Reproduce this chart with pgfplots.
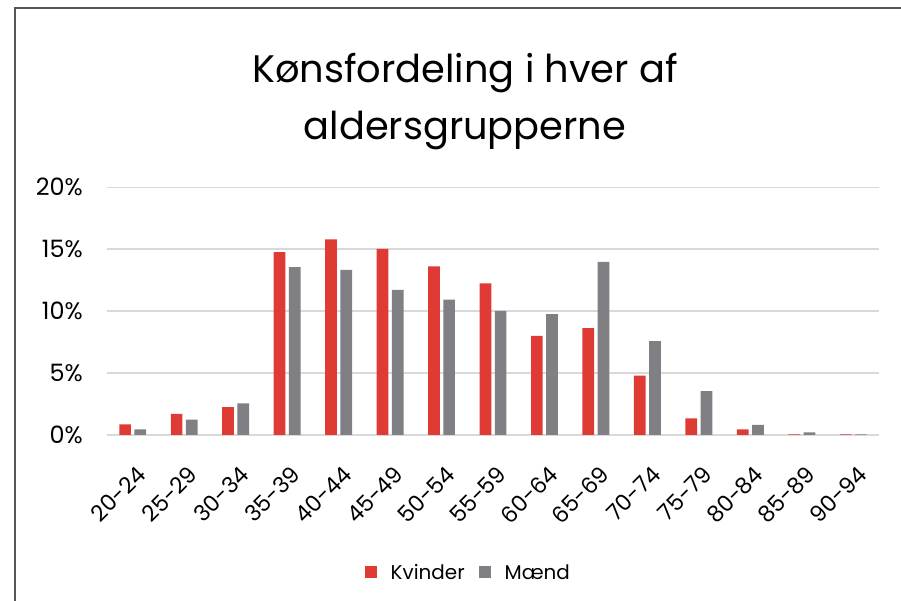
\documentclass[border=0pt]{standalone}
\usepackage{pgfplots}
\pgfplotsset{compat=1.18}
\usepackage{fontspec}
\setmainfont{Poppins}
\definecolor{kv}{HTML}{E03A35}
\definecolor{mn}{HTML}{808084}
\definecolor{gridc}{HTML}{D9D9D9}
\definecolor{framec}{HTML}{555555}
\begin{document}
\begin{tikzpicture}[x=1bp,y=1bp]
\useasboundingbox (0,0) rectangle (901,601);
\draw[line width=2bp, framec] (15,0) -- (15,593) -- (901,593);
\node[anchor=base, font=\fontsize{38.5}{40}\selectfont] at (465,518) {Kønsfordeling i hver af};
\node[anchor=base, font=\fontsize{38.5}{40}\selectfont] at (465,461) {aldersgrupperne};
\begin{axis}[
  at={(107bp,166bp)}, anchor=south west,
  scale only axis, width=772bp, height=247.7bp,
  xmin=-0.5, xmax=14.5, ymin=0, ymax=20,
  ybar=3.5bp, bar width=11.7bp,
  axis line style={draw=none}, tick style={draw=none},
  ymajorgrids, grid style={gridc, line width=1.5bp},
  ytick={0,5,10,15,20},
  yticklabels={0\%,5\%,10\%,15\%,20\%},
  xtick={0,...,14},
  xticklabels={20-24,25-29,30-34,35-39,40-44,45-49,50-54,55-59,60-64,65-69,70-74,75-79,80-84,85-89,90-94},
  yticklabel style={anchor=east, inner sep=0pt, xshift=-24bp, font=\fontsize{24}{28}\selectfont},
  xticklabel style={anchor=east, inner sep=0pt, xshift=9bp, yshift=-31bp, rotate=45, font=\fontsize{22.5}{26}\selectfont},
  legend style={at={(0.468,-0.555)}, anchor=center, draw=none, fill=none, legend columns=2,
    font=\fontsize{20}{24}\selectfont, column sep=12bp, inner sep=0pt},
  legend image code/.code={\fill[#1] (0bp,-6bp) rectangle (12bp,6bp);},
]
\addplot[fill=kv, draw=none] coordinates {(0,0.86) (1,1.70) (2,2.26) (3,14.76) (4,15.80) (5,15.02) (6,13.62) (7,12.25) (8,8.00) (9,8.62) (10,4.79) (11,1.35) (12,0.46) (13,0.05) (14,0.04)};
\addplot[fill=mn, draw=none] coordinates {(0,0.46) (1,1.24) (2,2.56) (3,13.55) (4,13.33) (5,11.71) (6,10.93) (7,10.02) (8,9.75) (9,13.97) (10,7.57) (11,3.55) (12,0.81) (13,0.22) (14,0.05)};
\legend{Kvinder, Mænd}
\end{axis}
\end{tikzpicture}
\end{document}
